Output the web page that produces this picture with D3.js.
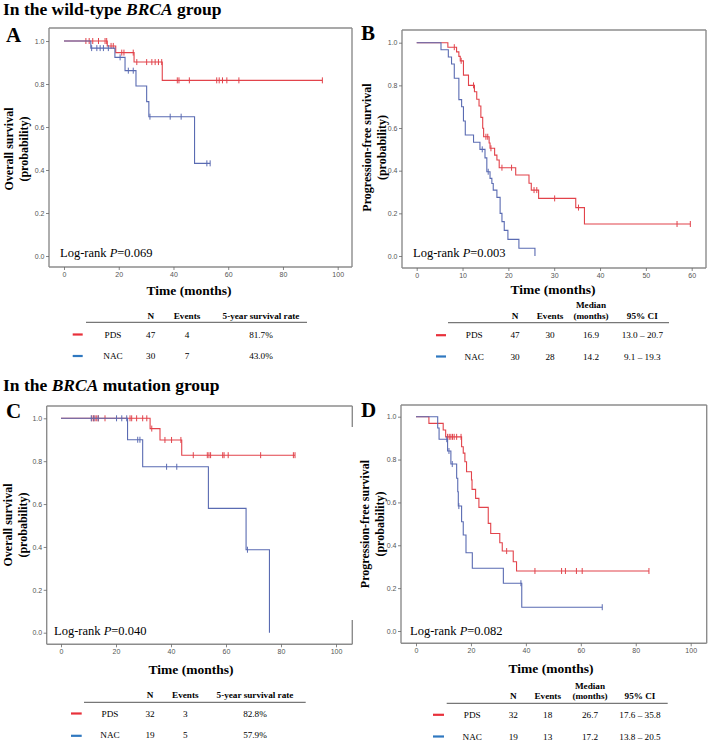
<!DOCTYPE html>
<html><head><meta charset="utf-8">
<script src="https://cdn.jsdelivr.net/npm/d3@7"></script>
<style>body{margin:0;background:#fff}</style>
</head><body>
<svg id="c" width="709" height="741" xmlns="http://www.w3.org/2000/svg"></svg>
<script>
// ---------------- DATA ----------------
const groupTitles = [["In the wild-type ", "BRCA", " group"], ["In the ", "BRCA", " mutation group"]];
const panelLetters = ["A", "B", "C", "D"];
const yTitlesOS = ["Overall survival", "(probability)"];
const yTitlesPFS = ["Progression-free survival", "(probability)"];
const xTitle = "Time (months)";
const pValues = ["0.069", "0.003", "0.040", "0.082"];
const yTickValues = [0, 0.2, 0.4, 0.6, 0.8, 1.0];
const xTicks100 = [0, 20, 40, 60, 80, 100];
const xTicks60 = [0, 10, 20, 30, 40, 50, 60];
const groups = ["PDS", "NAC"];

// Panel A (OS, wild-type)
const aPdsEvents = [[15.8,0.977],[18.9,0.946],[25.6,0.902],[35.9,0.817]];
const aPdsCensor = [8.0,9.2,10.5,12.6,15.0,15.6,17.2,18.0,21.1,21.9,25.3,26.6,30.2,32.1,33.3,34.5,35.7,41.4,42.0,45.8,55.8,56.7,57.9,59.5,63.9,94.4];
const aNacEvents = [[9.8,0.967],[18.6,0.924],[22.3,0.862],[26.3,0.791],[30.2,0.718],[31.0,0.648],[47.7,0.431]];
const aNacCensor = [10.1,12.0,13.2,14.4,16.2,20.5,23.5,25.3,31.4,38.8,42.8,52.2,53.4];

// Panel B (PFS, wild-type)
const bPdsEvents = [[6.8,0.979],[8.7,0.957],[9.2,0.936],[9.5,0.915],[10.2,0.848],[11.3,0.80],[12.6,0.77],[13.1,0.735],[13.6,0.703],[14.0,0.65],[14.4,0.599],[14.6,0.559],[15.8,0.53],[16.0,0.505],[17.0,0.473],[17.5,0.45],[18.0,0.414],[21.6,0.38],[24.5,0.341],[25.0,0.309],[26.6,0.27],[34.7,0.227],[36.6,0.15]];
const bPdsCensor = [8.2,9.7,12.4,15.1,15.5,16.2,18.6,20.7,25.6,26.2,30.1,35.3,56.8,59.7];
const bNacEvents = [[5.3,0.967],[6.9,0.933],[7.6,0.90],[8.2,0.833],[9.2,0.733],[9.8,0.70],[10.2,0.633],[10.6,0.567],[12.4,0.533],[13.8,0.50],[14.9,0.46],[15.3,0.395],[16.0,0.364],[16.4,0.34],[16.7,0.309],[17.5,0.275],[18.2,0.20],[18.6,0.161],[19.1,0.12],[19.9,0.078],[22.3,0.036],[25.8,0]];
const bNacCensor = [14.3,15.6];

// Panel C (OS, mutation)
const cPdsEvents = [[32.4,0.952],[36.0,0.899],[43.9,0.828]];
const cPdsCensor = [11.2,11.8,12.4,13.0,13.6,16.0,25.1,25.7,27.5,29.7,31.2,33.0,37.8,40.2,43.6,48.1,53.2,53.8,54.4,58.8,59.3,60.8,72.6,84.5,85.1];
const cNacEvents = [[24.2,0.90],[29.7,0.774],[53.6,0.58],[67.3,0.387],[75.8,0]];
const cNacCensor = [11.0,12.0,13.5,20.2,22.1,23.9,27.9,28.7,38.4,42.1,67.8];

// Panel D (PFS, mutation)
const dPdsEvents = [[4.7,0.969],[9.9,0.938],[10.8,0.906],[16.6,0.86],[17.2,0.83],[17.8,0.79],[18.4,0.743],[20.2,0.705],[20.4,0.661],[21.7,0.619],[22.9,0.577],[26.3,0.502],[27.2,0.455],[30.5,0.412],[31.4,0.373],[35.4,0.323],[36.6,0.28]];
const dPdsCensor = [11.5,12.1,12.7,13.3,13.9,14.8,16.4,33.0,43.3,53.0,54.4,58.4,60.5,84.8];
const dNacEvents = [[7.9,0.947],[8.4,0.895],[11.5,0.84],[12.7,0.779],[14.8,0.713],[15.2,0.65],[15.4,0.583],[16.6,0.51],[17.2,0.448],[18.2,0.365],[20.5,0.293],[31.8,0.223],[38.5,0.111]];
const dNacCensor = [11.2,12.0,13.2,15.6,38.2,67.8];

// Tables
const osHeader = ["N", "Events", "5-year survival rate"];
const pfsHeader = ["N", "Events", ["Median", "(months)"], "95% CI"];
const tableA = [["PDS","47","4","81.7%"],["NAC","30","7","43.0%"]];
const tableB = [["PDS","47","30","16.9","13.0 – 20.7"],["NAC","30","28","14.2","9.1 – 19.3"]];
const tableC = [["PDS","32","3","82.8%"],["NAC","19","5","57.9%"]];
const tableD = [["PDS","32","18","26.7","17.6 – 35.8"],["NAC","19","13","17.2","13.8 – 20.5"]];

// ---------------- STYLE / LAYOUT ----------------
const SERIF = '"Liberation Serif","Times New Roman",serif';
const SANS = '"Liberation Sans",Arial,sans-serif';
const CURVE = {PDS: "#e2434b", NAC: "#5a6bb2"};
const LEG = {PDS: "#e8303a", NAC: "#2f78c0"};
const FRAME = "#8c8c8c";

const svg = d3.select("#c");

// section titles
[[3, 14.5], [3, 390.5]].forEach((pos, i) => {
  const t = svg.append("text").attr("x", pos[0]).attr("y", pos[1])
    .attr("font-family", SERIF).attr("font-weight", "bold").attr("font-size", 17.5).attr("fill", "#000");
  groupTitles[i].forEach((s, j) => t.append("tspan").text(s).attr("font-style", j === 1 ? "italic" : "normal"));
});

const panels = [
  {letter: panelLetters[0], lx: 6, ly: 41.5, frame: [49, 28, 352, 267], xd: [0, 100], xr: [64, 337.7], yr: [256, 41],
   xt: xTicks100, ytitle: yTitlesOS, ytx: [12.5, 28], ytc: 149, p: pValues[0], px: 60, py: 256.5,
   curves: [["PDS", aPdsEvents, aPdsCensor], ["NAC", aNacEvents, aNacCensor]], xtitle: [189, 295]},
  {letter: panelLetters[1], lx: 361, ly: 40, frame: [402, 30, 706, 268], xd: [0, 60], xr: [416.7, 691.7], yr: [256, 42.7],
   xt: xTicks60, ytitle: yTitlesPFS, ytx: [371, 386], ytc: 147.5, p: pValues[1], px: 413, py: 256.5,
   curves: [["PDS", bPdsEvents, bPdsCensor], ["NAC", bNacEvents, bNacCensor]], xtitle: [553, 294]},
  {letter: panelLetters[2], lx: 6, ly: 418, frame: [46.7, 406, 352.3, 644.3], xd: [0, 100], xr: [61, 336], yr: [632.7, 418.3],
   xt: xTicks100, ytitle: yTitlesOS, ytx: [12, 27], ytc: 525, p: pValues[2], px: 54, py: 635, gapRight: [427, 620],
   curves: [["PDS", cPdsEvents, cPdsCensor], ["NAC", cNacEvents, cNacCensor]], xtitle: [191, 674]},
  {letter: panelLetters[3], lx: 361, ly: 417, frame: [401, 405, 706.7, 643.3], xd: [0, 100], xr: [416, 690.7], yr: [631, 416.7],
   xt: xTicks100, ytitle: yTitlesPFS, ytx: [369, 384], ytc: 524, p: pValues[3], px: 410, py: 635,
   curves: [["PDS", dPdsEvents, dPdsCensor], ["NAC", dNacEvents, dNacCensor]], xtitle: [551, 672.7]}
];

function survAt(events, t) {
  let s = 1;
  for (const e of events) { if (e[0] <= t) s = e[1]; }
  return s;
}

panels.forEach(p => {
  const g = svg.append("g");
  const x = d3.scaleLinear().domain(p.xd).range(p.xr);
  const y = d3.scaleLinear().domain([0, 1]).range(p.yr);
  const [fx0, fy0, fx1, fy1] = p.frame;

  // frame
  const fr = g.append("g").attr("stroke", FRAME).attr("stroke-width", 1.4).attr("fill", "none");
  fr.append("line").attr("x1", fx0).attr("x2", fx1).attr("y1", fy0).attr("y2", fy0);
  fr.append("line").attr("x1", fx0).attr("x2", fx1).attr("y1", fy1).attr("y2", fy1);
  fr.append("line").attr("x1", fx0).attr("x2", fx0).attr("y1", fy0).attr("y2", fy1);
  if (p.gapRight) {
    fr.append("line").attr("x1", fx1).attr("x2", fx1).attr("y1", fy0).attr("y2", p.gapRight[0]);
    fr.append("line").attr("x1", fx1).attr("x2", fx1).attr("y1", p.gapRight[1]).attr("y2", fy1);
  } else {
    fr.append("line").attr("x1", fx1).attr("x2", fx1).attr("y1", fy0).attr("y2", fy1);
  }

  // axes
  const ya = g.append("g").attr("transform", `translate(${fx0},0)`)
    .call(d3.axisLeft(y).tickValues(yTickValues).tickSize(3).tickPadding(1.5).tickFormat(d3.format(".1f")));
  const xa = g.append("g").attr("transform", `translate(0,${fy1})`)
    .call(d3.axisBottom(x).tickValues(p.xt).tickSize(3).tickPadding(2).tickFormat(d3.format("d")));
  [ya, xa].forEach(a => {
    a.select(".domain").remove();
    a.selectAll("line").attr("stroke", "#666").attr("stroke-width", 0.8);
    a.selectAll("text").attr("font-family", SANS).attr("font-size", 7).attr("fill", "#555");
  });

  // curves (PDS first, NAC on top)
  p.curves.forEach(([name, events, censor]) => {
    const last = events[events.length - 1];
    const tEnd = Math.max(last[0], d3.max(censor));
    const pts = [[0, 1], ...events, [tEnd, last[1]]];
    g.append("path")
      .attr("d", d3.line().x(d => x(d[0])).y(d => y(d[1])).curve(d3.curveStepAfter)(pts))
      .attr("fill", "none").attr("stroke", CURVE[name]).attr("stroke-width", 1.1);
    g.append("g").selectAll("line").data(censor).join("line")
      .attr("x1", d => x(d)).attr("x2", d => x(d))
      .attr("y1", d => y(survAt(events, d)) - 3).attr("y2", d => y(survAt(events, d)) + 3)
      .attr("stroke", CURVE[name]).attr("stroke-width", 1);
  });

  // panel letter
  g.append("text").attr("x", p.lx).attr("y", p.ly).text(p.letter)
    .attr("font-family", SERIF).attr("font-weight", "bold").attr("font-size", 21);

  // y title
  p.ytitle.forEach((s, i) => {
    g.append("text").attr("transform", `translate(${p.ytx[i]},${p.ytc}) rotate(-90)`)
      .attr("text-anchor", "middle").attr("font-family", SERIF).attr("font-weight", "bold")
      .attr("font-size", 12).text(s);
  });

  // x title
  g.append("text").attr("x", p.xtitle[0]).attr("y", p.xtitle[1]).attr("text-anchor", "middle")
    .attr("font-family", SERIF).attr("font-weight", "bold").attr("font-size", 13.5).text(xTitle);

  // log-rank
  const lt = g.append("text").attr("x", p.px).attr("y", p.py).attr("font-family", SERIF).attr("font-size", 12.5);
  lt.append("tspan").text("Log-rank ");
  lt.append("tspan").attr("font-style", "italic").text("P");
  lt.append("tspan").text("=" + p.p);
});

// ---------------- TABLES ----------------
const tables = [
  {rows: tableA, header: osHeader, dash: [72.7, 82.7], cols: [113, 150.7, 187, 261], line: [86, 307, 322.3],
   hy: 319, hy2: null, ry: [337.5, 359.3], dy: [334.5, 356]},
  {rows: tableB, header: pfsHeader, dash: [436, 446], cols: [474.3, 515, 550, 591, 642.3], line: [448, 669, 322.7],
   hy: 319, hy2: 307.5, ry: [338.3, 359.5], dy: [335.2, 356.5]},
  {rows: tableC, header: osHeader, dash: [71, 81.7], cols: [110, 150, 185.3, 255], line: [84, 305.7, 702.3],
   hy: 697.7, hy2: null, ry: [716.7, 738.3], dy: [713.5, 735.8]},
  {rows: tableD, header: pfsHeader, dash: [433, 444], cols: [472.3, 513.3, 547.7, 590, 640], line: [446.7, 667.7, 703.3],
   hy: 699, hy2: 688.5, ry: [718.3, 740], dy: [714.8, 736.5]}
];

tables.forEach(t => {
  const g = svg.append("g").attr("font-family", SERIF).attr("font-size", 9.2).attr("text-anchor", "middle");
  t.header.forEach((h, i) => {
    const cx = t.cols[i + 1];
    if (Array.isArray(h)) {
      g.append("text").attr("x", cx).attr("y", t.hy2).attr("font-weight", "bold").text(h[0]);
      g.append("text").attr("x", cx).attr("y", t.hy).attr("font-weight", "bold").text(h[1]);
    } else {
      g.append("text").attr("x", cx).attr("y", t.hy).attr("font-weight", "bold").text(h);
    }
  });
  g.append("line").attr("x1", t.line[0]).attr("x2", t.line[1]).attr("y1", t.line[2]).attr("y2", t.line[2])
    .attr("stroke", "#777").attr("stroke-width", 1.3);
  t.rows.forEach((r, ri) => {
    g.append("line").attr("x1", t.dash[0]).attr("x2", t.dash[1]).attr("y1", t.dy[ri]).attr("y2", t.dy[ri])
      .attr("stroke", LEG[r[0]]).attr("stroke-width", 2.2);
    r.forEach((v, ci) => {
      g.append("text").attr("x", t.cols[ci]).attr("y", t.ry[ri]).text(v);
    });
  });
});
</script>
</body></html>
